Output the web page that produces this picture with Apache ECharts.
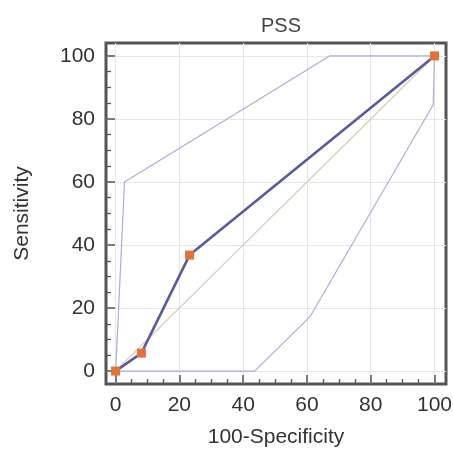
<!DOCTYPE html>
<html>
<head>
<meta charset="utf-8">
<script src="https://cdn.jsdelivr.net/npm/echarts@6/dist/echarts.min.js"></script>
<style>html,body{margin:0;padding:0;background:#fff}#c{width:453px;height:450px}</style>
</head>
<body>
<div id="c"></div>
<script>
// ROC curve points [100-Specificity, Sensitivity]
const rocX = [0, 8.1, 23.2, 100];
const rocY = [0, 5.7, 36.8, 100];
// Upper confidence bound
const upperX = [0, 0.6, 2.8, 67.1, 100];
const upperY = [0, 12, 60, 100, 100];
// Lower confidence bound
const lowerX = [0, 43.6, 61, 99.6, 100];
const lowerY = [0, 0, 17.3, 84.5, 100];
// Reference diagonal
const diagX = [0, 100];
const diagY = [0, 100];

const pairs = (xs, ys) => xs.map((x, i) => [x, ys[i]]);

const chart = echarts.init(document.getElementById('c'), null, {renderer: 'canvas'});
const font = '"Liberation Sans", Arial, sans-serif';
const axisCommon = {
  type: 'value',
  splitNumber: 5,
  axisLine: {show: false, onZero: false},
  axisTick: {show: true, inside: true, length: 9, lineStyle: {color: '#555', width: 1.5}},
  minorTick: {show: true, splitNumber: 4, length: 5, lineStyle: {color: '#555', width: 1.3}},
  splitLine: {show: true, showMinLine: false, showMaxLine: false, lineStyle: {color: '#e6e6e6', width: 1}},
  axisLabel: {showMinLabel: false, showMaxLabel: false, color: '#333', fontSize: 21, fontFamily: font},
  nameTextStyle: {color: '#333', fontSize: 21, fontFamily: font}
};
chart.setOption({
  animation: false,
  backgroundColor: '#fff',
  title: {
    text: 'PSS', left: 276, top: 11, textAlign: 'center',
    textStyle: {color: '#444', fontSize: 20, fontWeight: 'normal', fontFamily: font}
  },
  grid: {left: 106, right: 7, top: 43, bottom: 66, show: true, borderColor: '#555', borderWidth: 3,
    backgroundColor: 'transparent', outerBoundsMode: 'none', containLabel: false},
  xAxis: Object.assign({}, axisCommon, {
    min: -3, max: 103.6,
    name: '100-Specificity', nameLocation: 'middle', nameGap: 43,
    axisLabel: Object.assign({}, axisCommon.axisLabel, {margin: 11})
  }),
  yAxis: Object.assign({}, axisCommon, {
    min: -4.1, max: 104.1,
    name: 'Sensitivity', nameLocation: 'middle', nameGap: 73,
    axisLabel: Object.assign({}, axisCommon.axisLabel, {margin: 11})
  }),
  series: [
    {type: 'line', data: pairs(diagX, diagY), symbol: 'none', lineStyle: {color: '#d8d0b8', width: 1.3}, z: 1},
    {type: 'line', data: pairs(upperX, upperY), symbol: 'none', lineStyle: {color: '#aaaed2', width: 1.2}, z: 2},
    {type: 'line', data: pairs(lowerX, lowerY), symbol: 'none', lineStyle: {color: '#aaaed2', width: 1.2}, z: 2},
    {type: 'line', data: pairs(rocX, rocY), symbol: 'rect', symbolSize: 9,
      itemStyle: {color: '#e2713c'}, lineStyle: {color: '#5a5b9f', width: 2.6}, z: 3}
  ]
});
</script>
</body>
</html>
